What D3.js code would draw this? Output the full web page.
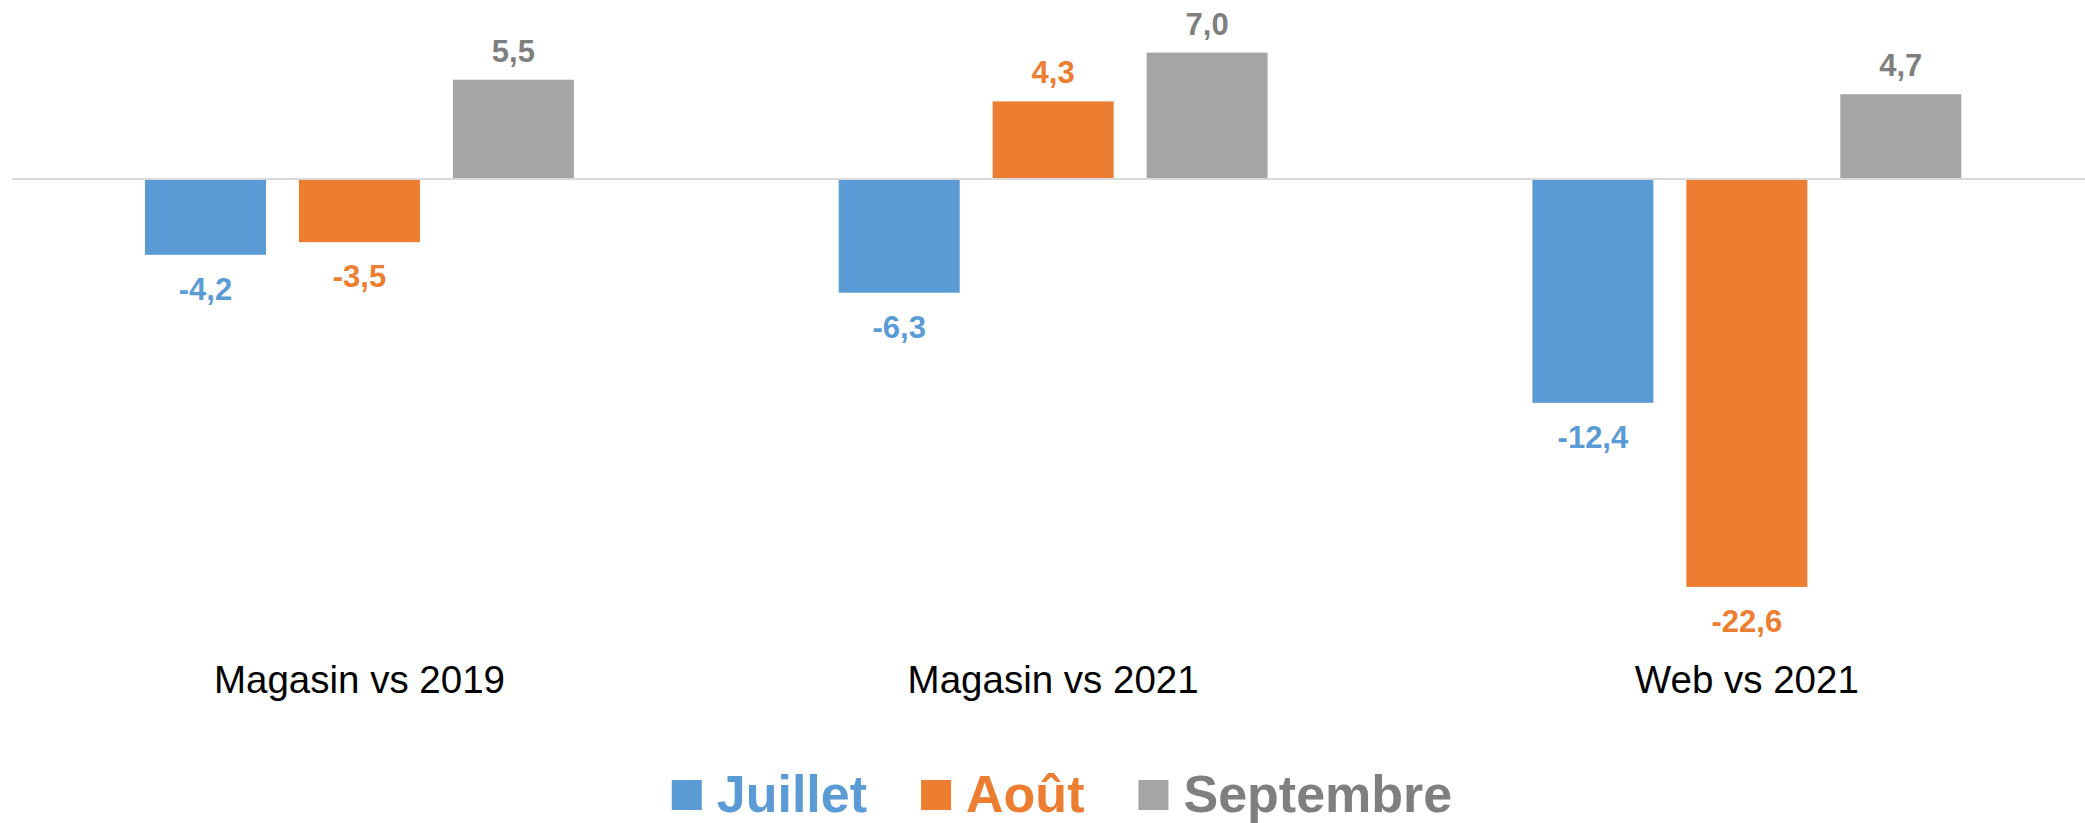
<!DOCTYPE html>
<html>
<head>
<meta charset="utf-8">
<script src="https://cdn.jsdelivr.net/npm/d3@7"></script>
<style>
  html, body { margin: 0; padding: 0; background: #fff; }
  svg { display: block; }
</style>
</head>
<body>
<svg id="chart" width="2085" height="823"></svg>
<script>
const categories = ["Magasin vs 2019", "Magasin vs 2021", "Web vs 2021"];
const seriesNames = ["Juillet", "Août", "Septembre"];
const juillet = [-4.2, -6.3, -12.4];
const aout = [-3.5, 4.3, -22.6];
const septembre = [5.5, 7.0, 4.7];
const seriesValues = [juillet, aout, septembre];
const barColors = ["#5B9BD5", "#ED7D31", "#A5A5A5"];
const labelColors = ["#5B9BD5", "#ED7D31", "#7F7F7F"];

const svg = d3.select("#chart");

const x0 = d3.scaleBand().domain(categories).range([12.6, 2093.7]).padding(0);
const x1 = d3.scaleBand().domain(seriesNames).range([0, x0.bandwidth()])
  .paddingInner(0.214).paddingOuter(0.86);
const y = d3.scaleLinear().domain([0, 1]).range([179, 179 - 18.05]);

const fmt = v => d3.format(".1f")(v).replace(".", ",").replace("−", "-");

// bars
const g = svg.append("g");
categories.forEach((cat, ci) => {
  seriesNames.forEach((s, si) => {
    const v = seriesValues[si][ci];
    const bx = x0(cat) + x1(s);
    g.append("rect")
      .attr("x", bx)
      .attr("width", x1.bandwidth())
      .attr("y", Math.min(y(v), y(0)))
      .attr("height", Math.abs(y(v) - y(0)))
      .attr("fill", barColors[si]);
  });
});

// zero line
svg.append("line")
  .attr("x1", 12).attr("x2", 2085)
  .attr("y1", y(0)).attr("y2", y(0))
  .attr("stroke", "#D9D9D9").attr("stroke-width", 2);

// data labels
categories.forEach((cat, ci) => {
  seriesNames.forEach((s, si) => {
    const v = seriesValues[si][ci];
    const cx = x0(cat) + x1(s) + x1.bandwidth() / 2;
    const ty = v >= 0 ? y(v) - 18 : y(v) + 45;
    svg.append("text")
      .attr("x", cx).attr("y", ty)
      .attr("text-anchor", "middle")
      .attr("font-family", "'Liberation Sans', Arial, sans-serif")
      .attr("font-weight", "bold")
      .attr("font-size", 31)
      .attr("fill", labelColors[si])
      .text(fmt(v));
  });
});

// category axis labels
const xAxis = d3.axisBottom(x0).tickSize(0).tickPadding(0);
const ax = svg.append("g").attr("transform", "translate(0,665)").call(xAxis);
ax.select(".domain").remove();
ax.selectAll("text")
  .attr("dy", 0).attr("y", 28)
  .attr("font-family", "'Liberation Sans', Arial, sans-serif")
  .attr("font-size", 38.5)
  .attr("fill", "#000");

// legend
const legend = svg.append("g");
const items = [];
seriesNames.forEach((s, si) => {
  const it = legend.append("g");
  it.append("rect").attr("x", 0).attr("y", 780).attr("width", 30).attr("height", 30)
    .attr("fill", barColors[si]);
  const t = it.append("text").attr("x", 45).attr("y", 812)
    .attr("font-family", "'Liberation Sans', Arial, sans-serif")
    .attr("font-weight", "bold")
    .attr("font-size", 52)
    .attr("fill", labelColors[si])
    .text(s);
  const w = 45 + t.node().getComputedTextLength();
  items.push({ it, w });
});
const gap = 54;
const total = d3.sum(items, d => d.w) + gap * (items.length - 1);
let start = 1062 - total / 2;
items.forEach(d => {
  d.it.attr("transform", `translate(${start},0)`);
  start += d.w + gap;
});
</script>
</body>
</html>
